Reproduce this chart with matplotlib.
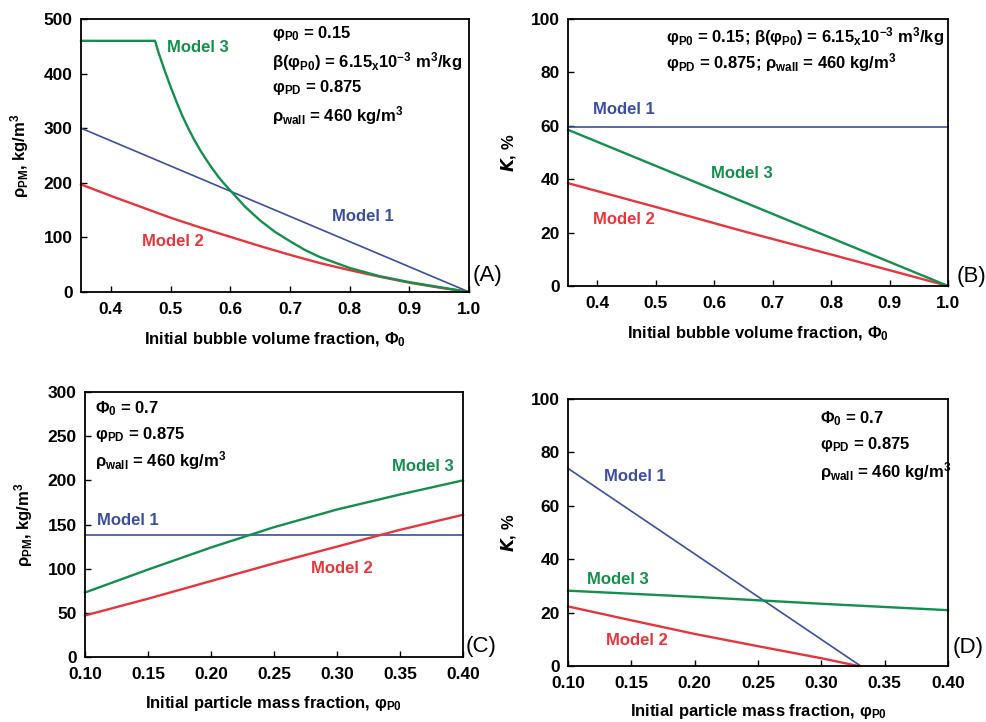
import matplotlib
matplotlib.use('Agg')
import matplotlib.pyplot as plt

plt.rcParams['font.family'] = ['Liberation Sans', 'DejaVu Sans']
plt.rcParams['font.weight'] = 'bold'
plt.rcParams['axes.labelweight'] = 'bold'
plt.rcParams['font.size'] = 12
plt.rcParams['mathtext.default'] = 'regular'

# (A) rho_PM vs initial bubble volume fraction
a_m1_x = [0.35, 1.0]
a_m1_y = [300, 0]
a_m2_x = [0.35, 0.40, 0.45, 0.50, 0.55, 0.60, 0.65, 0.70, 0.75, 0.80, 0.85, 0.90, 0.95, 1.0]
a_m2_y = [197, 176, 156, 136, 118, 101, 84, 68, 53, 40, 28, 17, 8, 0]
a_m3_x = [0.35, 0.474, 0.48, 0.49, 0.50, 0.51, 0.52, 0.53, 0.54, 0.55, 0.56, 0.57, 0.58, 0.59,
          0.60, 0.625, 0.65, 0.675, 0.70, 0.725, 0.75, 0.80, 0.85, 0.90, 0.95, 1.0]
a_m3_y = [460, 460, 438, 406, 376, 348, 322, 299, 278, 259, 242, 226, 211, 198,
          186, 156, 131, 110, 93, 77, 64, 44, 29, 18, 9, 0]

# (B) K vs initial bubble volume fraction
b_m1_x = [0.35, 1.0]
b_m1_y = [59.5, 59.5]
b_m2_x = [0.35, 0.50, 0.65, 0.80, 1.0]
b_m2_y = [38.5, 29.6, 20.5, 11.8, 0]
b_m3_x = [0.35, 0.50, 0.65, 0.80, 1.0]
b_m3_y = [58.5, 45.0, 31.5, 18.0, 0]

# (C) rho_PM vs initial particle mass fraction
c_m1_x = [0.10, 0.40]
c_m1_y = [138, 138]
c_m2_x = [0.10, 0.15, 0.20, 0.25, 0.30, 0.35, 0.40]
c_m2_y = [47, 66, 86, 106, 125, 144, 161]
c_m3_x = [0.10, 0.15, 0.20, 0.25, 0.30, 0.35, 0.40]
c_m3_y = [73, 99, 124, 147, 167, 184, 200]

# (D) K vs initial particle mass fraction
d_m1_x = [0.10, 0.331]
d_m1_y = [74, 0]
d_m2_x = [0.10, 0.15, 0.20, 0.25, 0.30, 0.329]
d_m2_y = [22.3, 17.1, 12.0, 7.4, 2.9, 0]
d_m3_x = [0.10, 0.20, 0.30, 0.40]
d_m3_y = [28.2, 25.9, 23.3, 20.9]

blue = '#3b4ea2'
red = '#e8353b'
green = '#12904c'

fig = plt.figure(figsize=(9.87, 7.22), dpi=100)


def setup(ax, xlim, xticks, xfmt, ylim, yticks):
    ax.set_xlim(xlim)
    ax.set_ylim(ylim)
    ax.set_xticks(xticks)
    ax.set_xticklabels([xfmt % v for v in xticks])
    ax.set_yticks(yticks)
    ax.tick_params(direction='in', length=4, width=1, top=False, right=False,
                   labelsize=12.5)
    ax.tick_params(axis='x', pad=7)
    ax.tick_params(axis='y', pad=6)
    for s in ax.spines.values():
        s.set_linewidth(1.3)


def curves(ax, m1, m2, m3):
    ax.plot(m1[0], m1[1], color=blue, lw=1.2, clip_on=False)
    ax.plot(m2[0], m2[1], color=red, lw=1.7, clip_on=False)
    ax.plot(m3[0], m3[1], color=green, lw=1.7, clip_on=False)


def notes(ax, x, ys, lines):
    for y, t in zip(ys, lines):
        ax.text(x, y, t, transform=ax.transAxes, ha='left', va='center', fontsize=12)


# ---- (A)
axA = fig.add_axes([0.0821, 0.5956, 0.3931, 0.3781])
curves(axA, (a_m1_x, a_m1_y), (a_m2_x, a_m2_y), (a_m3_x, a_m3_y))
setup(axA, (0.35, 1.0), [0.4, 0.5, 0.6, 0.7, 0.8, 0.9, 1.0], '%.1f', (0, 500), range(0, 501, 100))
axA.set_xlabel('Initial bubble volume fraction, Φ$_0$', fontsize=12, labelpad=10)
axA.set_ylabel('ρ$_{PM}$, kg/m$^3$', fontsize=12, labelpad=9)
axA.text(0.546, 447, 'Model 3', color=green, ha='center', va='center')
axA.text(0.822, 139, 'Model 1', color=blue, ha='center', va='center')
axA.text(0.504, 93, 'Model 2', color=red, ha='center', va='center')
notes(axA, 0.492, [0.948, 0.844, 0.75, 0.648],
      ['φ$_{P0}$ = 0.15', 'β(φ$_{P0}$) = 6.15$_x$10$^{-3}$ m$^3$/kg',
       'φ$_{PD}$ = 0.875', 'ρ$_{wall}$ = 460 kg/m$^3$'])
axA.text(1.01, 0.062, '(A)', transform=axA.transAxes, fontsize=16, fontweight='normal',
         ha='left', va='center')

# ---- (B)
axB = fig.add_axes([0.5755, 0.6039, 0.385, 0.3698])
curves(axB, (b_m1_x, b_m1_y), (b_m2_x, b_m2_y), (b_m3_x, b_m3_y))
setup(axB, (0.35, 1.0), [0.4, 0.5, 0.6, 0.7, 0.8, 0.9, 1.0], '%.1f', (0, 100), range(0, 101, 20))
axB.set_xlabel('Initial bubble volume fraction, Φ$_0$', fontsize=12, labelpad=10)
axB.set_ylabel('$\\mathit{K}$, %', fontsize=12, labelpad=9)
axB.text(0.446, 66, 'Model 1', color=blue, ha='center', va='center')
axB.text(0.647, 42, 'Model 3', color=green, ha='center', va='center')
axB.text(0.445, 25, 'Model 2', color=red, ha='center', va='center')
notes(axB, 0.257, [0.936, 0.836],
      ['φ$_{P0}$ = 0.15; β(φ$_{P0}$) = 6.15$_x$10$^{-3}$ m$^3$/kg',
       'φ$_{PD}$ = 0.875; ρ$_{wall}$ = 460 kg/m$^3$'])
axB.text(1.022, 0.037, '(B)', transform=axB.transAxes, fontsize=16, fontweight='normal',
         ha='left', va='center')

# ---- (C)
axC = fig.add_axes([0.0861, 0.09, 0.383, 0.367])
curves(axC, (c_m1_x, c_m1_y), (c_m2_x, c_m2_y), (c_m3_x, c_m3_y))
setup(axC, (0.10, 0.40), [0.10, 0.15, 0.20, 0.25, 0.30, 0.35, 0.40], '%.2f', (0, 300), range(0, 301, 50))
axC.set_xlabel('Initial particle mass fraction, φ$_{P0}$', fontsize=12, labelpad=9)
axC.set_ylabel('ρ$_{PM}$, kg/m$^3$', fontsize=12, labelpad=9)
axC.text(0.368, 216, 'Model 3', color=green, ha='center', va='center')
axC.text(0.134, 155, 'Model 1', color=blue, ha='center', va='center')
axC.text(0.304, 100, 'Model 2', color=red, ha='center', va='center')
notes(axC, 0.026, [0.936, 0.838, 0.741],
      ['Φ$_0$ = 0.7', 'φ$_{PD}$ = 0.875', 'ρ$_{wall}$ = 460 kg/m$^3$'])
axC.text(1.008, 0.038, '(C)', transform=axC.transAxes, fontsize=16, fontweight='normal',
         ha='left', va='center')

# ---- (D)
axD = fig.add_axes([0.5755, 0.0776, 0.385, 0.3698])
curves(axD, (d_m1_x, d_m1_y), (d_m2_x, d_m2_y), (d_m3_x, d_m3_y))
setup(axD, (0.10, 0.40), [0.10, 0.15, 0.20, 0.25, 0.30, 0.35, 0.40], '%.2f', (0, 100), range(0, 101, 20))
axD.set_xlabel('Initial particle mass fraction, φ$_{P0}$', fontsize=12, labelpad=8)
axD.set_ylabel('$\\mathit{K}$, %', fontsize=12, labelpad=9)
axD.text(0.153, 71, 'Model 1', color=blue, ha='center', va='center')
axD.text(0.139, 32.5, 'Model 3', color=green, ha='center', va='center')
axD.text(0.154, 9.6, 'Model 2', color=red, ha='center', va='center')
notes(axD, 0.663, [0.925, 0.828, 0.728],
      ['Φ$_0$ = 0.7', 'φ$_{PD}$ = 0.875', 'ρ$_{wall}$ = 460 kg/m$^3$'])
axD.text(1.013, 0.07, '(D)', transform=axD.transAxes, fontsize=16, fontweight='normal',
         ha='left', va='center')

fig.savefig('out.png', dpi=100)
